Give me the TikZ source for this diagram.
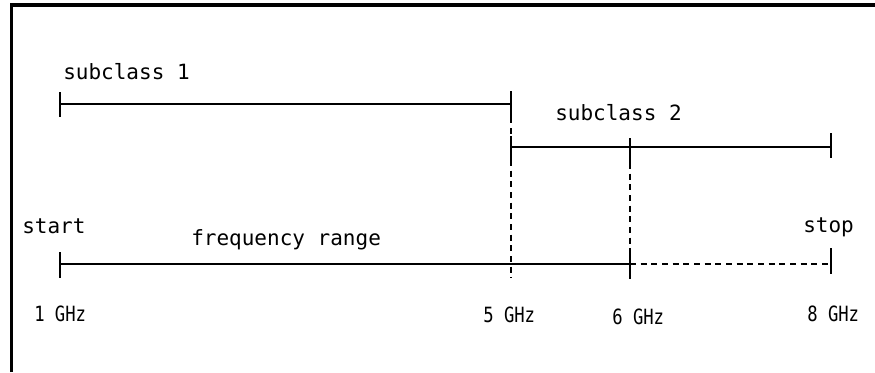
\documentclass[tikz,border=0pt]{standalone}
\usepackage{fontspec}
\newfontfamily\gothic{DejaVu Sans Mono}
\newfontfamily\gothicnarrow[FakeStretch=0.82]{DejaVu Sans Mono}
\begin{document}
\begin{tikzpicture}[x=0.75pt, y=-0.75pt,
    span/.style={line width=1.7pt},
    guide/.style={line width=1.7pt, dash pattern=on 4.5pt off 3.5pt},
    lbl/.style={inner sep=0pt, anchor=base west, font=\fontsize{15.75pt}{18pt}\gothic},
    ghz/.style={inner sep=0pt, anchor=base west, font=\fontsize{15.75pt}{18pt}\gothicnarrow}]
    \useasboundingbox (0,0) rectangle (875,372);
    % frame
    \draw[line width=2.5pt] (11.5,372) -- (11.5,5) -- (875,5);
    % end points
    \coordinate (s1a) at (60,104);
    \coordinate (s1b) at (511,104);
    \coordinate (s2a) at (511,147);
    \coordinate (s2m) at (630,147);
    \coordinate (s2b) at (831,147);
    \coordinate (f1) at (60,264);
    \coordinate (f5) at (511,264);
    \coordinate (f6) at (630,264);
    \coordinate (f8) at (831,264);
    % subclass 1
    \draw[span] (s1a) -- (s1b);
    \draw[span] (s1a) ++(0,-12) -- ++(0,25);
    \draw[span] (s1b) ++(0,-13) -- ++(0,27);
    % subclass 2
    \draw[span] (s2a) -- (s2b);
    \draw[span] (s2a) ++(0,-11) -- ++(0,24);
    \draw[span] (s2m) ++(0,-9) -- ++(0,25);
    \draw[span] (s2b) ++(0,-14) -- ++(0,25);
    % frequency range
    \draw[span] (f1) -- (f6);
    \draw[guide] (f6) -- (f8);
    \draw[span] (f1) ++(0,-12) -- ++(0,26);
    \draw[span] (f6) ++(0,-12) -- ++(0,27);
    \draw[span] (f8) ++(0,-16) -- ++(0,26);
    % guides
    \draw[guide] ([yshift=-10pt]s1b) -- ([yshift=-10.5pt]f5);
    \draw[guide] ([yshift=-12pt]s2m) -- (f6);
    % labels
    \node[lbl] (sub1) at (63,79) {subclass 1};
    \node[lbl] (sub2) at (555,120) {subclass 2};
    \node[lbl] (start) at (22,233) {start};
    \node[lbl] (range) at (191,245) {frequency range};
    \node[lbl] (stop) at (803,232) {stop};
    \node[ghz] (g1) at (34,321) {1 GHz};
    \node[ghz] (g5) at (483,322) {5 GHz};
    \node[ghz] (g6) at (612,324) {6 GHz};
    \node[ghz] (g8) at (807,321) {8 GHz};
\end{tikzpicture}
\end{document}
